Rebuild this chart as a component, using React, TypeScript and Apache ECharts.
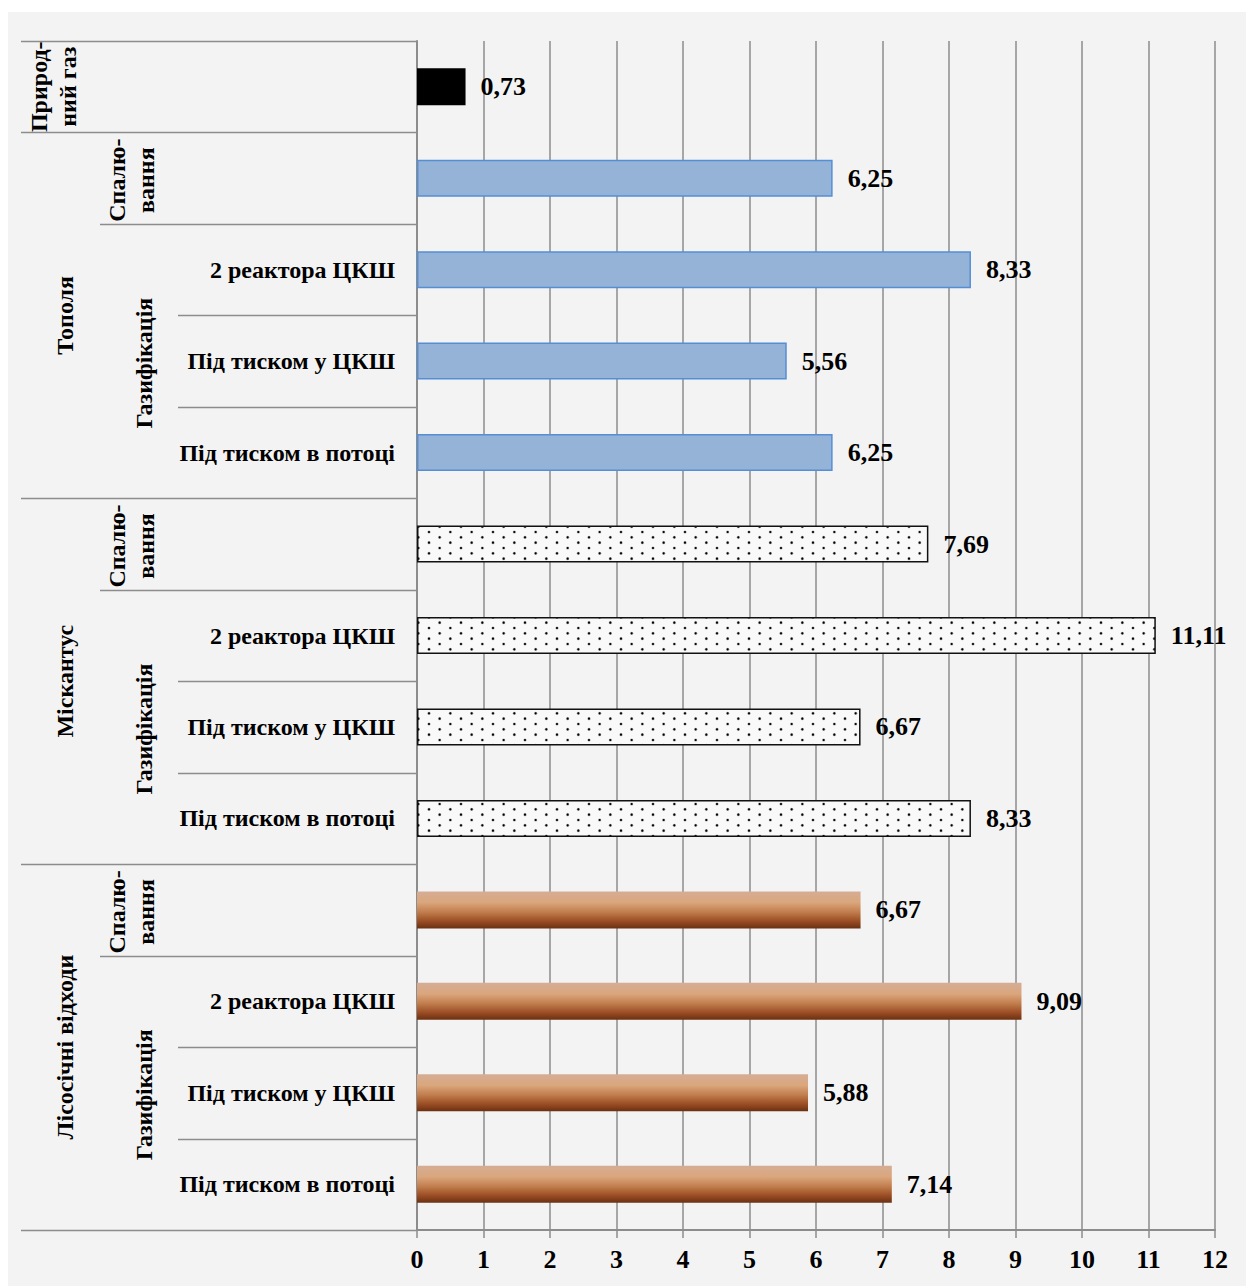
import React, { useEffect, useRef } from 'react';
import * as echarts from 'echarts';

const FONT = '"Liberation Serif", "Times New Roman", serif';

const groups = [
  'Природний газ',
  'Тополя', 'Тополя', 'Тополя', 'Тополя',
  'Міскантус', 'Міскантус', 'Міскантус', 'Міскантус',
  'Лісосічні відходи', 'Лісосічні відходи', 'Лісосічні відходи', 'Лісосічні відходи',
];
const methods = [
  '',
  'Спалювання', 'Газифікація', 'Газифікація', 'Газифікація',
  'Спалювання', 'Газифікація', 'Газифікація', 'Газифікація',
  'Спалювання', 'Газифікація', 'Газифікація', 'Газифікація',
];
const subLabels = [
  '',
  '', '2 реактора ЦКШ', 'Під тиском у ЦКШ', 'Під тиском в потоці',
  '', '2 реактора ЦКШ', 'Під тиском у ЦКШ', 'Під тиском в потоці',
  '', '2 реактора ЦКШ', 'Під тиском у ЦКШ', 'Під тиском в потоці',
];
const values = [0.73, 6.25, 8.33, 5.56, 6.25, 7.69, 11.11, 6.67, 8.33, 6.67, 9.09, 5.88, 7.14];

const xMin = 0;
const xMax = 12;
const xInterval = 1;

const groupDisplay: Record<string, string> = {
  'Природний газ': 'Природ-\nний газ',
  'Тополя': 'Тополя',
  'Міскантус': 'Міскантус',
  'Лісосічні відходи': 'Лісосічні відходи',
};
const methodDisplay: Record<string, string> = {
  'Спалювання': 'Спалю-\nвання',
  'Газифікація': 'Газифікація',
};

const categories = groups.map((g, i) => `${g} | ${methods[i]} | ${subLabels[i]} | ${i}`);

const GRID_COLOR = '#8c8c8c';

function makeDotPattern(): any {
  const c = document.createElement('canvas');
  c.width = 64;
  c.height = 32;
  const ctx = c.getContext('2d')!;
  ctx.fillStyle = '#f9f9f9';
  ctx.fillRect(0, 0, 64, 32);
  for (let r = 0; r < 6; r++) {
    const y = 2.67 + r * (32 / 6);
    const off = r % 2 === 0 ? 5 : 5 + 64 / 6;
    for (let k = 0; k < 3; k++) {
      const x = off + k * (64 / 3);
      ctx.fillStyle = 'rgba(0,0,0,0.35)';
      ctx.beginPath();
      ctx.arc(x, y, 1.6, 0, Math.PI * 2);
      ctx.fill();
      ctx.fillStyle = '#000000';
      ctx.beginPath();
      ctx.arc(x, y, 1.05, 0, Math.PI * 2);
      ctx.fill();
    }
  }
  return { image: c.toDataURL(), repeat: 'repeat', imageWidth: 64, imageHeight: 32 };
}

function styleFor(group: string, pattern: any): any {
  if (group === 'Природний газ') return { color: '#000000' };
  if (group === 'Тополя') return { color: '#95b3d7', borderColor: '#558ed5', borderWidth: 1.5 };
  if (group === 'Міскантус') return { color: pattern, borderColor: '#111111', borderWidth: 1.5 };
  return {
    color: new echarts.graphic.LinearGradient(0, 0, 0, 1, [
      { offset: 0, color: '#d5ad95' },
      { offset: 0.3, color: '#daa67c' },
      { offset: 0.55, color: '#c27f4f' },
      { offset: 0.8, color: '#9c4e24' },
      { offset: 1, color: '#6a3012' },
    ]),
  };
}

export default function App() {
  const ref = useRef<HTMLDivElement>(null);

  useEffect(() => {
    if (!ref.current) return;
    const chart = echarts.init(ref.current, null, { renderer: 'svg' });
    const pattern = makeDotPattern();

    const option: any = {
      animation: false,
      backgroundColor: '#f3f3f3',
      grid: { left: 409, right: 31, top: 29, bottom: 56, containLabel: false, outerBoundsMode: 'none' },
      xAxis: {
        type: 'value',
        min: xMin,
        max: xMax,
        interval: xInterval,
        position: 'bottom',
        axisLine: { show: true, lineStyle: { color: GRID_COLOR, width: 2 } },
        axisTick: { show: true, length: 8, lineStyle: { color: GRID_COLOR, width: 1.5 } },
        splitLine: { show: true, lineStyle: { color: GRID_COLOR, width: 1.5 } },
        axisLabel: {
          show: true,
          margin: 16,
          color: '#000',
          fontFamily: FONT,
          fontWeight: 'bold',
          fontSize: 26,
        },
      },
      yAxis: {
        type: 'category',
        inverse: true,
        data: categories,
        boundaryGap: true,
        axisLine: { show: true, lineStyle: { color: GRID_COLOR, width: 2 } },
        axisTick: { show: false },
        splitLine: { show: false },
        axisLabel: {
          show: true,
          interval: 0,
          margin: 22,
          color: '#000',
          fontFamily: FONT,
          fontWeight: 'bold',
          fontSize: 24,
          formatter: (_v: string, idx: number) => subLabels[idx],
        },
      },
      series: [
        {
          type: 'bar',
          barWidth: 37,
          data: values.map((v, i) => ({ value: v, itemStyle: styleFor(groups[i], pattern) })),
          label: {
            show: true,
            position: 'right',
            distance: 15,
            color: '#000',
            fontFamily: FONT,
            fontWeight: 'bold',
            fontSize: 26,
            formatter: (p: any) => Number(p.value).toFixed(2).replace('.', ','),
          },
        },
      ],
    };
    chart.setOption(option);

    // hierarchical category labels and separators, placed with the axis scale
    const cy = (i: number) => chart.convertToPixel({ yAxisIndex: 0 }, i) as number;
    const band = cy(1) - cy(0);
    const edge = (k: number) => cy(0) - band / 2 + k * band;
    const axisX = chart.convertToPixel({ xAxisIndex: 0 }, xMin) as number;
    const n = values.length;

    const LEVEL1_X = 13;
    const LEVEL2_X = 92;
    const LEVEL3_X = 170;

    const elements: any[] = [];
    for (let k = 0; k <= n; k++) {
      let x1 = LEVEL3_X;
      if (k === 0 || k === n || groups[k] !== groups[k - 1]) x1 = LEVEL1_X;
      else if (methods[k] !== methods[k - 1]) x1 = LEVEL2_X;
      const y = Math.round(edge(k)) + 0.5;
      elements.push({
        type: 'line',
        shape: { x1, y1: y, x2: axisX, y2: y },
        style: { stroke: GRID_COLOR, lineWidth: 1.5 },
        silent: true,
      });
    }

    const textStyle = (text: string) => ({
      text,
      fill: '#000',
      fontFamily: FONT,
      fontWeight: 'bold',
      fontSize: 24,
      lineHeight: 29,
      align: 'center',
      verticalAlign: 'middle',
      textAlign: 'center',
      textVerticalAlign: 'middle',
    });

    // level 1 spans
    let s = 0;
    for (let i = 1; i <= n; i++) {
      if (i === n || groups[i] !== groups[s]) {
        const label = groupDisplay[groups[s]];
        const yc = (edge(s) + edge(i)) / 2;
        const x = label.includes('\n') ? 45 : 57;
        elements.push({ type: 'text', x, y: yc, rotation: Math.PI / 2, style: textStyle(label), silent: true });
        s = i;
      }
    }
    // level 2 spans
    s = 0;
    for (let i = 1; i <= n; i++) {
      if (i === n || groups[i] !== groups[s] || methods[i] !== methods[s]) {
        if (methods[s]) {
          const label = methodDisplay[methods[s]];
          const yc = (edge(s) + edge(i)) / 2;
          const x = label.includes('\n') ? 123 : 136;
          elements.push({ type: 'text', x, y: yc + 2, rotation: Math.PI / 2, style: textStyle(label), silent: true });
        }
        s = i;
      }
    }

    chart.setOption({ graphic: { elements } });

    return () => chart.dispose();
  }, []);

  return (
    <div style={{ position: 'absolute', left: 8, top: 8, width: 1238, paddingTop: 4, background: '#ffffff' }}>
      <div ref={ref} style={{ width: 1238, height: 1274 }} />
    </div>
  );
}
